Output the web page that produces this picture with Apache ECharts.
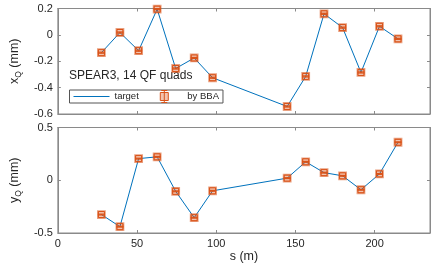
<!DOCTYPE html>
<html><head><meta charset="utf-8">
<script src="https://cdn.jsdelivr.net/npm/echarts@6/dist/echarts.min.js"></script>
<style>html,body{margin:0;padding:0;background:#fff}#c{width:443px;height:266px}</style>
</head><body><div id="c"></div>
<script>
var sPos = [27.5, 39.2, 51.0, 62.7, 74.4, 86.1, 97.7, 144.8, 156.5, 168.1, 179.8, 191.4, 203.1, 214.8];
var xTarget = [-0.135, 0.018, -0.12, 0.195, -0.255, -0.175, -0.325, -0.543, -0.315, 0.16, 0.055, -0.285, 0.065, -0.03];
var xBBA    = [-0.135, 0.018, -0.12, 0.195, -0.255, -0.175, -0.325, -0.543, -0.315, 0.16, 0.055, -0.285, 0.065, -0.03];
var yTarget = [-0.325, -0.44, 0.205, 0.222, -0.105, -0.355, -0.1, 0.02, 0.175, 0.072, 0.042, -0.09, 0.06, 0.36];
var yBBA    = [-0.325, -0.44, 0.205, 0.222, -0.105, -0.355, -0.1, 0.02, 0.175, 0.072, 0.042, -0.09, 0.06, 0.36];
var errBBA  = [0.004, 0.004, 0.004, 0.004, 0.004, 0.004, 0.004, 0.004, 0.004, 0.004, 0.004, 0.004, 0.004, 0.004];

var FONT = 'Liberation Sans';
var AX = '#8a8a8a';
var TXT = '#262626';
var BLUE = '#0072BD';
var ORANGE = '#D95319';

function pairs(a, b) { return a.map(function (v, i) { return [v, b[i]]; }); }
function triples(a, b, e) { return a.map(function (v, i) { return [v, b[i], e[i]]; }); }

function renderBBA(params, api) {
  var s = api.value(0), v = api.value(1), e = api.value(2);
  var c = api.coord([s, v]);
  var hi = api.coord([s, v + e]), lo = api.coord([s, v - e]);
  var h = 3.5;
  var st = { stroke: ORANGE, lineWidth: 1.2 };
  return { type: 'group', children: [
    { type: 'rect', shape: { x: c[0] - h, y: c[1] - h, width: 2 * h, height: 2 * h },
      style: { fill: 'rgba(217,83,25,0.35)', stroke: 'rgba(217,83,25,0.55)', lineWidth: 1.8 } },
    { type: 'rect', shape: { x: c[0] - h + 0.5, y: c[1] - h + 0.5, width: 2 * h - 1, height: 2 * h - 1 },
      style: { fill: 'none', stroke: ORANGE, lineWidth: 1 } },
    { type: 'line', shape: { x1: c[0], y1: hi[1], x2: c[0], y2: lo[1] }, style: st },
    { type: 'line', shape: { x1: c[0] - h, y1: hi[1], x2: c[0] + h, y2: hi[1] }, style: st },
    { type: 'line', shape: { x1: c[0] - h, y1: lo[1], x2: c[0] + h, y2: lo[1] }, style: st }
  ]};
}

function xAx(grid, pos, labels, name) {
  return {
    type: 'value', gridIndex: grid, position: pos, min: 0, max: 235, interval: 50,
    axisLine: { show: true, onZero: false, lineStyle: { color: AX, width: 1 } },
    axisTick: { show: true, inside: true, length: 3, lineStyle: { color: AX } },
    axisLabel: { show: labels, showMaxLabel: false, color: TXT, fontFamily: FONT, fontSize: 11, margin: 5 },
    splitLine: { show: false },
    name: name || '', nameLocation: 'middle', nameGap: 16,
    nameTextStyle: { color: TXT, fontFamily: FONT, fontSize: 12.5 }
  };
}
function yAx(grid, pos, labels, min, max, interval, name) {
  return {
    type: 'value', gridIndex: grid, position: pos, min: min, max: max, interval: interval,
    axisLine: { show: true, onZero: false, lineStyle: { color: AX, width: 1 } },
    axisTick: { show: true, inside: true, length: 3, lineStyle: { color: AX } },
    axisLabel: { show: labels, color: TXT, fontFamily: FONT, fontSize: 11, margin: 5,
      formatter: function (v) { return String(Math.round(v * 10) / 10); } },
    splitLine: { show: false },
    name: name || '', nameLocation: 'middle', nameGap: 28, nameRotate: 90,
    nameTextStyle: { color: TXT, fontFamily: FONT, fontSize: 12.5,
      rich: { n: { fontFamily: FONT, fontSize: 12.5, color: TXT },
              sub: { fontFamily: FONT, fontSize: 8.5, color: TXT, verticalAlign: 'bottom', padding: [8, 0, 0, 0] } } }
  };
}

var chart = echarts.init(document.getElementById('c'));
chart.setOption({
  animation: false,
  backgroundColor: '#fff',
  grid: [
    { left: 53, right: 13, top: 8.5, height: 105.5, show: true, borderColor: AX, borderWidth: 1 },
    { left: 53, right: 13, top: 127.5, height: 105.5, show: true, borderColor: AX, borderWidth: 1 }
  ],
  xAxis: [
    xAx(0, 'bottom', false), xAx(0, 'top', false),
    xAx(1, 'bottom', true, 's (m)'), xAx(1, 'top', false)
  ],
  yAxis: [
    yAx(0, 'left', true, -0.6, 0.2, 0.2, '{n|x}{sub|Q}{n| (mm)}'), yAx(0, 'right', false, -0.6, 0.2, 0.2),
    yAx(1, 'left', true, -0.5, 0.5, 0.5, '{n|y}{sub|Q}{n| (mm)}'), yAx(1, 'right', false, -0.5, 0.5, 0.5)
  ],
  legend: {
    left: 69.5, top: 90, orient: 'horizontal',
    itemWidth: 36, itemHeight: 12, itemGap: 21,
    padding: [0, 4, 0, 4],
    borderColor: '#555', borderWidth: 1, backgroundColor: '#fff',
    textStyle: { color: TXT, fontFamily: FONT, fontSize: 9.5 },
    selectedMode: false,
    data: [
      { name: 'target', icon: 'path://M0,0H36V0.8H0Z', itemStyle: { color: BLUE } },
      { name: 'by BBA', icon: 'path://M0,2H8V10H0Z M1,0H7 M4,0V12 M1,12H7',
        itemStyle: { color: 'rgba(217,83,25,0.35)', borderColor: ORANGE, borderWidth: 1 } }
    ]
  },
  graphic: [
    { type: 'text', left: 69, top: 70, style: { text: 'SPEAR3, 14 QF quads', fill: TXT, font: '12px "Liberation Sans"' } }
  ],
  series: [
    { name: 'target', type: 'line', xAxisIndex: 0, yAxisIndex: 0, data: pairs(sPos, xTarget),
      symbol: 'none', lineStyle: { color: BLUE, width: 1 }, itemStyle: { color: BLUE }, z: 2 },
    { name: 'by BBA', type: 'custom', xAxisIndex: 0, yAxisIndex: 0, data: triples(sPos, xBBA, errBBA),
      renderItem: renderBBA, itemStyle: { color: ORANGE }, z: 3 },
    { name: 'target', type: 'line', xAxisIndex: 2, yAxisIndex: 2, data: pairs(sPos, yTarget),
      symbol: 'none', lineStyle: { color: BLUE, width: 1 }, itemStyle: { color: BLUE }, z: 2 },
    { name: 'by BBA', type: 'custom', xAxisIndex: 2, yAxisIndex: 2, data: triples(sPos, yBBA, errBBA),
      renderItem: renderBBA, itemStyle: { color: ORANGE }, z: 3 }
  ]
});
</script></body></html>
